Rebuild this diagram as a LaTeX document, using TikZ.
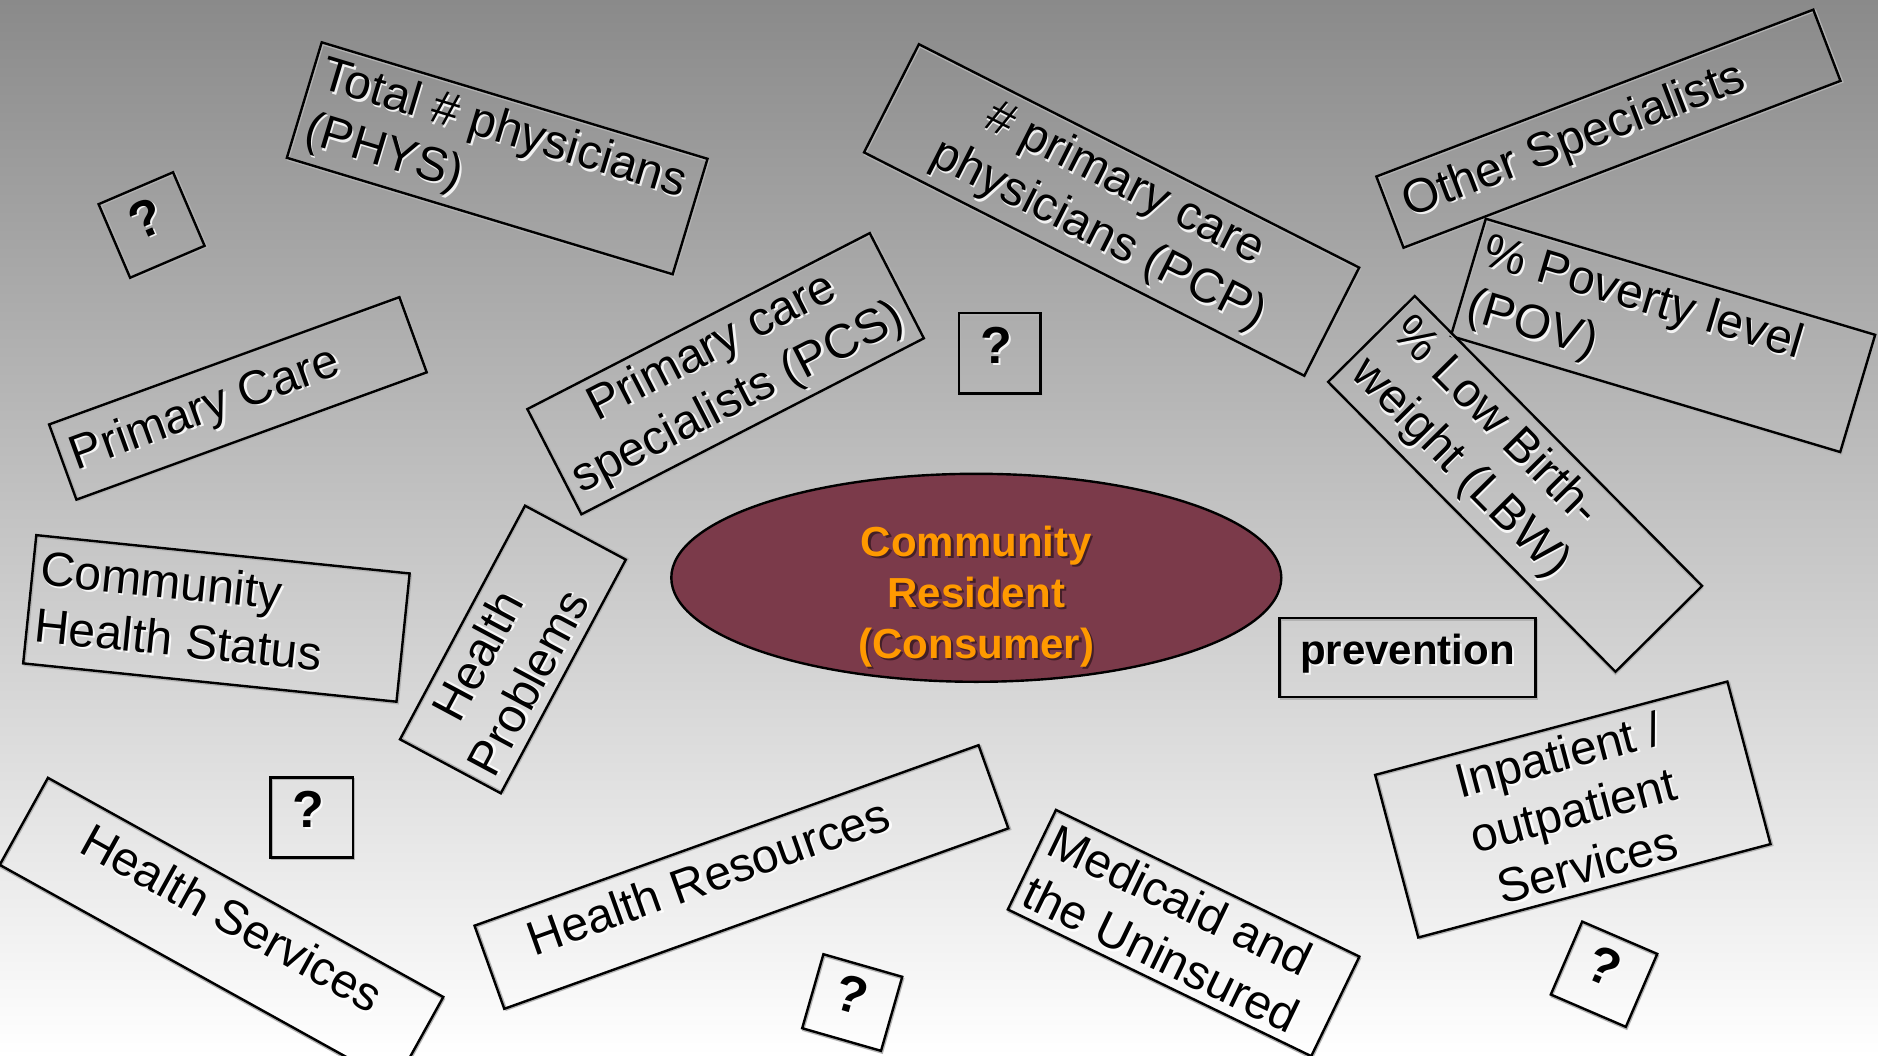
\documentclass[tikz,border=0pt]{standalone}
\usepackage{fontspec}
\setmainfont{Liberation Sans}
\usetikzlibrary{shapes.geometric}

\definecolor{bgtop}{HTML}{8A8A8A}
\definecolor{resident}{HTML}{7B3A4A}
\definecolor{residenttext}{HTML}{FF9900}

\tikzset{
  frame/.style={draw=black, line width=2.4pt, rectangle, inner sep=0pt},
  frameedge/.style={frame, draw=black!30, line width=2pt},
  lbl/.style={inner sep=0pt, font=\fontsize{48}{57}\selectfont, text=black},
  boldlbl/.style={inner sep=0pt, font=\fontsize{42}{50}\selectfont\bfseries, text=black},
  qlbl/.style={inner sep=0pt, font=\fontsize{52}{60}\selectfont\bfseries, text=black,
    xshift=-3pt, yshift=8pt},
  lblshadow/.style={text=white, opacity=0.85},
  leftlbl/.style={lbl, align=left, anchor=west},
  midlbl/.style={lbl, align=center},
  resident shape/.style={ellipse, draw=black, line width=2.4pt, fill=resident,
    minimum width=610pt, minimum height=208pt, inner sep=0pt},
  resident label/.style={inner sep=0pt, align=center,
    font=\fontsize{42}{51}\selectfont\bfseries, text=residenttext},
}

% a tilted rectangle with a faint edge shadow, its label and the label's white shadow
% #1 name, #2 centre, #3 angle, #4 width, #5 height, #6 label options, #7 label
\newcommand\tagbox[7]{%
  \begin{scope}[shift={#2}, rotate=#3, transform shape]
    \node[frameedge, minimum width=#4, minimum height=#5] (#1-edge) at (1.6,-1.6) {};
    \node[frame, minimum width=#4, minimum height=#5] (#1) at (0,0) {};
    \node[#6, lblshadow, xshift=2pt, yshift=-2pt] (#1-shadow) at (0,0) {#7};
    \node[#6] (#1-text) at (0,0) {#7};
  \end{scope}}

\begin{document}
\begin{tikzpicture}[x=1pt,y=1pt]
\useasboundingbox (0,0) rectangle (1878,-1056);
\clip (0,0) rectangle (1878,-1056);
\shade[top color=bgtop, bottom color=white] (0,0) rectangle (1878,-1056);

% upper row
\tagbox{q1}{(151.6,-225)}{23.2}{81pt}{80pt}{qlbl}{?}
\tagbox{phys}{(497.2,-158.3)}{-16.8}{403pt}{120.6pt}{leftlbl, xshift=-191.5pt}{Total \# physicians\\(PHYS)}
\tagbox{pc}{(237.9,-398.4)}{19.97}{372.7pt}{80pt}{leftlbl, xshift=-176pt}{Primary Care}
\tagbox{pcs}{(725.6,-373.7)}{27.2}{385pt}{118.3pt}{midlbl}{Primary care\\specialists (PCS)}
\tagbox{pcp}{(1111.6,-210)}{-26.9}{493.7pt}{121.3pt}{midlbl}{\# primary care\\physicians (PCP)}
\tagbox{other}{(1608.4,-128.7)}{20.9}{467.7pt}{76.2pt}{leftlbl, xshift=-218pt}{Other Specialists}
\tagbox{pov}{(1663,-335.4)}{-16.6}{406.3pt}{122.3pt}{leftlbl, xshift=-195pt}{\% Poverty level\\(POV)}
\tagbox{lbw}{(1515.1,-483.9)}{-45.25}{408.2pt}{122pt}{leftlbl, xshift=-194pt}{\% Low Birth-\\weight (LBW)}
\tagbox{q2}{(999.6,-353.3)}{0}{81.8pt}{80pt}{qlbl}{?}

% centre
\node[resident shape] (resident) at (976.3,-577.8) {};
\node[resident label, text=black, opacity=0.45] (resident-shadow) at (978.8,-598.8) {Community\\Resident\\(Consumer)};
\node[resident label] (resident-text) at (976.3,-596.3) {Community\\Resident\\(Consumer)};
\tagbox{prev}{(1407.4,-657.5)}{0}{256pt}{79pt}{boldlbl, yshift=4pt}{prevention}

% middle and lower rows
\tagbox{chs}{(216.4,-618.4)}{-5.86}{375.3pt}{128.9pt}{leftlbl, xshift=-180pt, yshift=4pt}{Community\\Health Status}
\tagbox{hp}{(512.9,-649.5)}{61.85}{265pt}{114.3pt}{midlbl, xshift=-22pt}{Health\\Problems}
\tagbox{q3}{(311.7,-817.3)}{0}{82.2pt}{80pt}{qlbl}{?}
\tagbox{hs}{(221.5,-930.9)}{-29}{452pt}{99.5pt}{midlbl, xshift=3pt, yshift=17pt}{Health Services}
\tagbox{hr}{(741.4,-877)}{19.7}{535.4pt}{88.3pt}{midlbl, xshift=-31pt, yshift=12pt}{Health Resources}
\tagbox{q4}{(852.2,-1002.5)}{-16}{82pt}{77pt}{qlbl}{?}
\tagbox{med}{(1183.6,-933)}{-25.8}{337pt}{110.6pt}{leftlbl, xshift=-160pt}{Medicaid and\\the Uninsured}
\tagbox{inp}{(1572.8,-809.5)}{14.85}{364.4pt}{168.2pt}{midlbl}{Inpatient /\\outpatient\\Services}
\tagbox{q5}{(1604,-974.2)}{-23.3}{81.7pt}{79.4pt}{qlbl}{?}
\end{tikzpicture}
\end{document}
